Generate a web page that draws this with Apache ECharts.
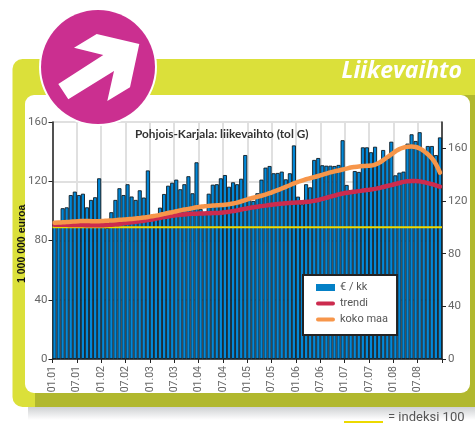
<!DOCTYPE html>
<html><head><meta charset="utf-8">
<style>html,body{margin:0;padding:0;background:#fff}#c{width:475px;height:426px}</style>
<script src="https://cdn.jsdelivr.net/npm/echarts@6/dist/echarts.min.js"></script>
</head><body><div id="c"></div>
<script>
const tickLabels = ['01.01','07.01','01.02','07.02','01.03','07.03','01.04','07.04','01.05','07.05','01.06','07.06','01.07','07.07','01.08','07.08'];
const euroValues = [92.7,91.2,101.8,102.4,110.7,113,110.7,111.6,102.4,107.4,109.2,122,
91.2,88.5,99.1,107.4,115.3,110.7,118,109.7,107.4,113.9,109,127.3,
95.2,96.6,102.2,111.4,117,119,121.1,114.6,118,123.4,111.9,132.8,
101.3,99.3,111.6,117.7,118,122,124.2,116.3,119.3,118,121.7,137.7,
107.4,106.7,111.9,121.1,129.2,130.3,125.4,125.6,126.5,121.3,125.4,144.2,
109.6,104.5,118,115.9,134.4,135.7,130.8,130.5,130.5,130.3,131,147.7,
117.5,114.1,126.9,126.3,142.9,142.9,139.6,143.3,132.1,141.1,135.5,146.7,
124,125.8,126.5,145.4,151.7,147.2,153.1,139.8,143.8,143.8,137.7,149.6];
const trendValues = [102,102,101.9,101.9,101.8,101.8,101.7,101.7,101.6,101.5,101.5,101.5,
101.6,101.8,102,102.3,102.6,103,103.4,103.8,104.2,104.6,105,105.5,
106,106.6,107.2,107.8,108.3,108.7,109.1,109.5,109.8,110.1,110.3,110.4,
110.5,110.6,110.7,110.8,110.9,111.1,111.4,111.8,112.3,112.9,113.5,114.1,
114.7,115.2,115.7,116.1,116.5,116.9,117.3,117.7,118,118.3,118.5,118.7,
118.9,119.1,119.3,119.6,120.1,120.8,121.6,122.4,123.3,124.1,125,125.7,
126.2,126.7,127.1,127.5,127.9,128.3,128.7,129.2,129.9,130.6,131.4,132.1,
132.9,133.7,134.5,135,135.2,135.2,134.9,134.3,133.6,132.8,131.9,130.9];
const kokoMaaValues = [103.5,103.6,103.8,104,104.2,104.5,104.7,104.8,104.8,104.7,104.6,104.7,
104.9,105,105.2,105.4,105.7,105.9,106.1,106.4,106.7,107,107.4,107.9,
108.4,108.9,109.5,110.2,110.9,111.5,112.2,112.9,113.5,114,114.6,115.2,
115.6,116,116.3,116.5,116.7,116.9,117.2,117.6,118.1,118.8,119.7,120.7,
121.7,122.5,123.2,124,124.9,125.9,127.1,128.3,129.5,130.7,132,133.4,
134.5,135.5,136.5,137.3,138.1,139,139.9,140.8,141.7,142.5,143.2,143.9,
144.6,145.4,145.9,146.2,146.5,146.7,146.9,147.7,149,151,153.2,155.4,
157.6,159.4,160.6,161.2,161.3,161,159.9,158,155.5,152.5,148,141.5];
const indexLevel = 100;
const months = euroValues.length;
const at = arr => arr.map((v,i)=>[i+0.5,v]);
const FONT = 'Roboto,"Open Sans",sans-serif';
const lineIcon = 'path://M2,0H17A2,2 0 0 1 17,4H2A2,2 0 0 1 2,0Z';
const chart = echarts.init(document.getElementById('c'),null,{renderer:'canvas'});
chart.setOption({
  animation:false,
  grid:{left:52.5,right:33,top:122,bottom:67,containLabel:false},
  title:{text:'Pohjois-Karjala: liikevaihto (tol G)',left:135,top:128,padding:0,
    textStyle:{fontFamily:'Lato,sans-serif',fontSize:11.8,fontWeight:'bold',color:'#333'}},
  legend:{data:[{name:'€ / kk',icon:'path://M0,0H19V7H0Z',itemStyle:{borderWidth:0,color:'#0480c6'}},{name:'trendi',icon:lineIcon},{name:'koko maa',icon:lineIcon}],
    orient:'vertical',left:303,top:275,
    padding:[7,9,10,13],itemGap:5,itemWidth:19,itemHeight:15,backgroundColor:'#fff',borderColor:'#222',borderWidth:2,
    textStyle:{fontFamily:FONT,fontSize:11,color:'#555'}},
  xAxis:{type:'value',min:0,max:months,interval:6,
    axisLine:{show:true,onZero:false,lineStyle:{color:'#222',width:1.5}},
    axisTick:{show:true,length:4,lineStyle:{color:'#222'}},
    splitLine:{show:true,lineStyle:{color:'#e0e0e0',width:2}},
    axisLabel:{rotate:90,margin:7,color:'#666',fontFamily:FONT,fontSize:10.5,showMinLabel:true,showMaxLabel:true,
      formatter:v=>tickLabels[v/6]||''}},
  yAxis:[
    {type:'value',min:0,max:160,interval:40,position:'left',
      axisLine:{show:true,lineStyle:{color:'#222',width:1.5}},
      axisTick:{show:true,length:4,lineStyle:{color:'#222'}},
      splitLine:{show:true,lineStyle:{color:'#e0e0e0',width:2}},
      axisLabel:{margin:5,color:'#666',fontFamily:FONT,fontSize:11.5}},
    {type:'value',min:0,max:180,interval:40,position:'right',
      axisLine:{show:true,lineStyle:{color:'#222',width:1.5}},
      axisTick:{show:true,length:4,lineStyle:{color:'#222'},customValues:[0,40,80,120,160]},
      splitLine:{show:false},
      axisLabel:{margin:6,color:'#666',fontFamily:FONT,fontSize:11.5,customValues:[0,40,80,120,160]}}
  ],
  series:[
    {name:'€ / kk',type:'bar',yAxisIndex:0,data:at(euroValues),barWidth:4.07,z:2,
      itemStyle:{color:'#0288d8',borderColor:'#101c24',borderWidth:0.9}},
    {name:'indeksi',type:'line',yAxisIndex:1,data:[[0,indexLevel],[months,indexLevel]],symbol:'none',z:3,
      lineStyle:{color:'#ecd900',width:2}},
    {name:'trendi',type:'line',yAxisIndex:1,data:at(trendValues),smooth:true,symbol:'none',z:4,
      itemStyle:{color:'#cc2b4e'},lineStyle:{color:'#cc2b4e',width:4.5,cap:'round'}},
    {name:'koko maa',type:'line',yAxisIndex:1,data:at(kokoMaaValues),smooth:true,symbol:'none',z:5,
      itemStyle:{color:'#f7964a'},lineStyle:{color:'#f7964a',width:4.5,cap:'round'}}
  ],
  graphic:[
    {type:'rect',z:-5,shape:{x:28,y:400,width:447,height:20},
      style:{fill:new echarts.graphic.LinearGradient(0,0,0,1,[{offset:0,color:'#b5b8bb'},{offset:1,color:'#ffffff'}])}},
    {type:'rect',z:-4,shape:{x:12.5,y:59,width:470,height:348,r:[10,0,0,10]},style:{fill:'#dbe03a'}},
    {type:'rect',z:-3,shape:{x:35,y:95,width:440,height:312,r:0},style:{fill:'#b1b82e'}},
    {type:'rect',z:-2,shape:{x:25,y:95,width:445,height:298,r:9},style:{fill:'#fff'}},
    {type:'circle',z:100,shape:{cx:98,cy:67,r:59},style:{fill:'#fff'}},
    {type:'circle',z:101,shape:{cx:98,cy:67,r:57},style:{fill:'#cb2f90'}},
    {type:'polygon',z:102,shape:{points:[[96.7,34],[139.3,44],[130,87.3],[107.3,101],[114,71],[68.3,99.3],[58.3,84],[103.3,55],[74,47.7]]},style:{fill:'#fff'}},
    {type:'text',z:103,style:{x:462,y:60,text:'Liikevaihto',align:'right',fill:'#fff',font:'italic bold 23px "Open Sans",sans-serif'}},
    {type:'text',z:103,rotation:Math.PI/2,x:17,y:283,style:{x:0,y:0,text:'1 000 000 euroa',fill:'#111',font:'bold 10.5px "Liberation Sans",sans-serif'}},
    {type:'rect',z:103,shape:{x:344,y:421,width:39,height:2},style:{fill:'#ecd900'}},
    {type:'text',z:103,style:{x:388,y:411,text:'= indeksi 100',fill:'#555',font:'13px '+FONT}}
  ]
});
</script></body></html>
